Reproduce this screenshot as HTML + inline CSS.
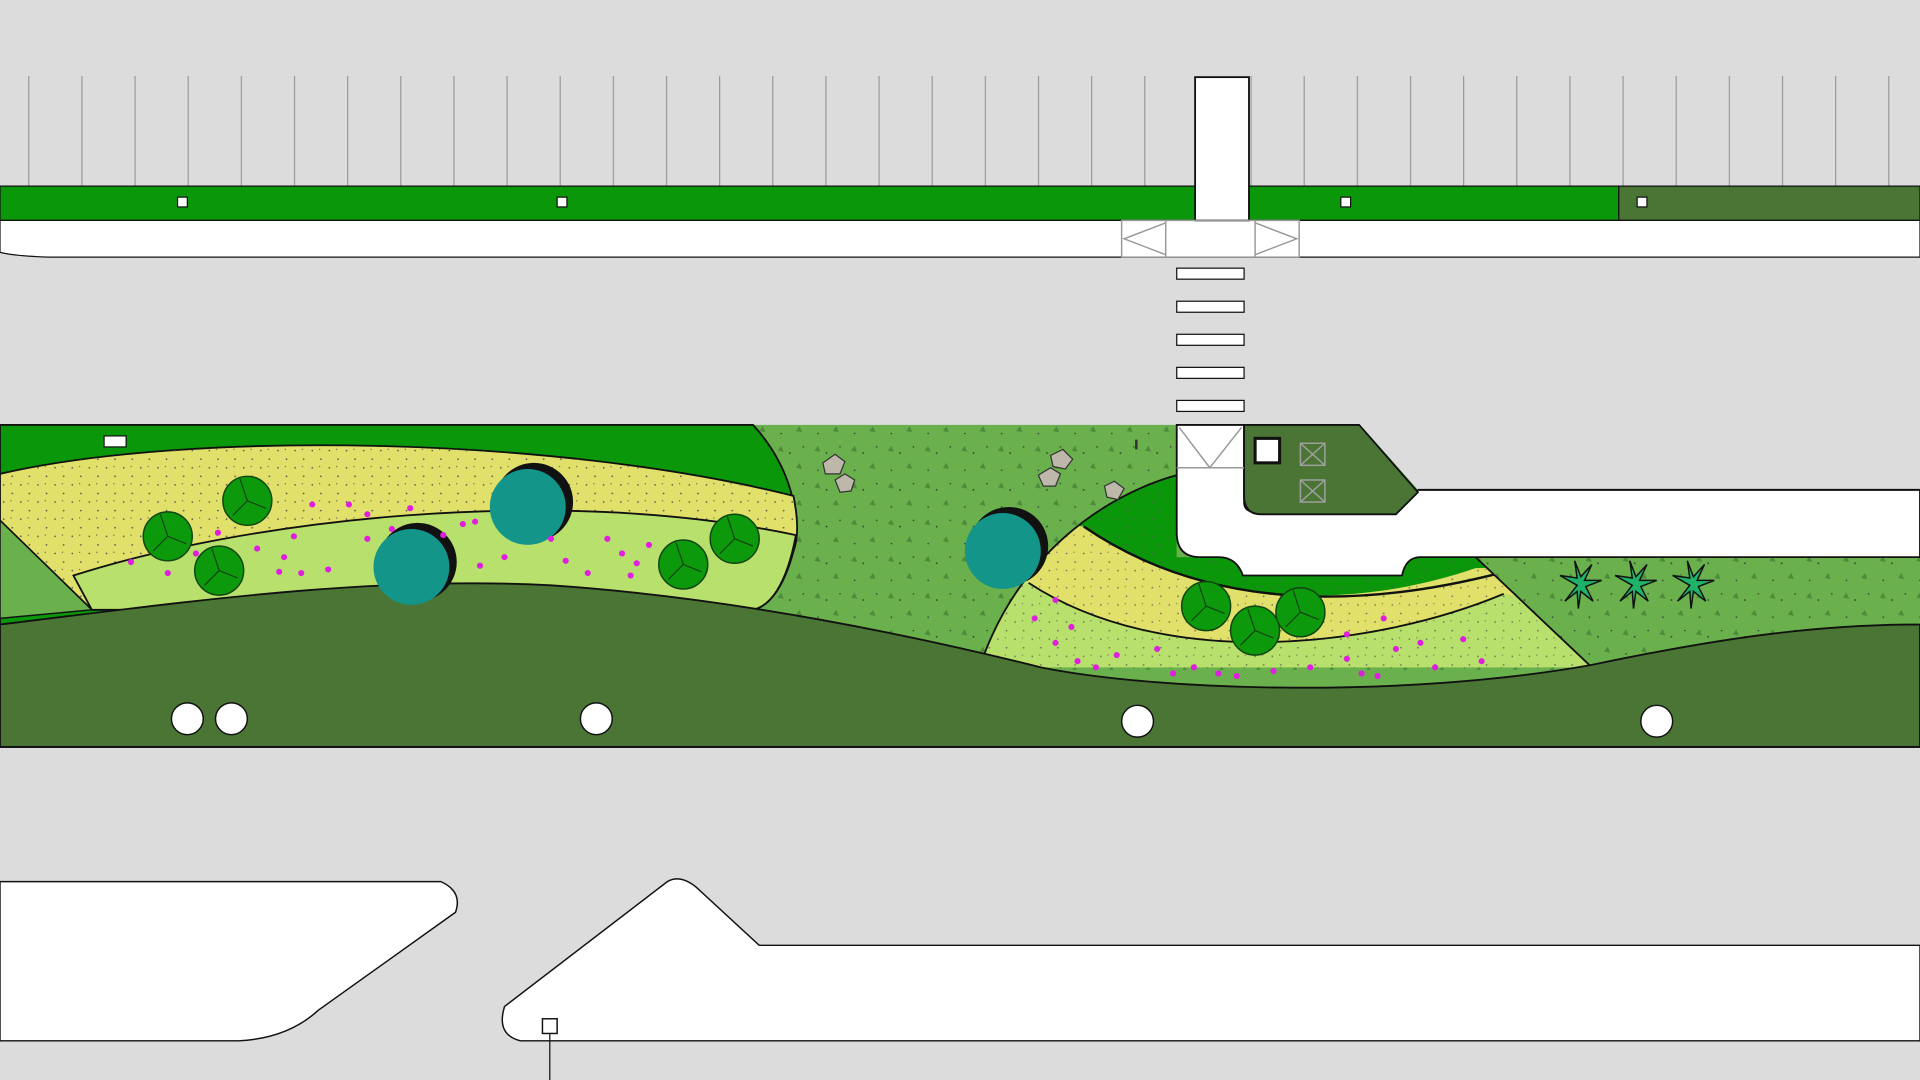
<!DOCTYPE html>
<html><head><meta charset="utf-8"><style>html,body{margin:0;padding:0;background:#dcdcdc}svg{display:block}</style></head>
<body>
<svg width="1920" height="1080" viewBox="0 0 1568 882" preserveAspectRatio="none" xmlns="http://www.w3.org/2000/svg">
<defs>
<pattern id="vl" x="23" y="0" width="43.4" height="882" patternUnits="userSpaceOnUse"><line x1="0.5" y1="62" x2="0.5" y2="152" stroke="#9a9a9a" stroke-width="1"/></pattern>
<pattern id="dots" width="14" height="14" patternUnits="userSpaceOnUse"><circle cx="3" cy="4" r="0.7" fill="#555"/><circle cx="10" cy="11" r="0.7" fill="#555"/><circle cx="9" cy="3" r="0.5" fill="#555"/></pattern>
<pattern id="tri" width="30" height="30" patternUnits="userSpaceOnUse"><path d="M5,8 l3,-4 l2,5z M20,22 l3,-4 l2,5z" fill="#4d8a3a"/><circle cx="15" cy="10" r="0.7" fill="#333"/><circle cx="26" cy="5" r="0.6" fill="#333"/><circle cx="8" cy="24" r="0.6" fill="#333"/></pattern>
<clipPath id="rc"><path d="M961,388 C900,405 830,455 800,545 L1300,545 L1205,455 H961 Z"/></clipPath>
</defs>
<rect width="1568" height="882" fill="#dcdcdc"/>
<rect x="0" y="60" width="1568" height="95" fill="url(#vl)"/>
<rect x="0" y="152" width="1322" height="28" fill="#0a980a" stroke="#111" stroke-width="1"/>
<rect x="1322" y="152" width="246" height="28" fill="#4a7535" stroke="#111" stroke-width="1"/>
<g fill="#fff" stroke="#111" stroke-width="1"><rect x="145" y="161" width="8" height="8"/><rect x="455" y="161" width="8" height="8"/><rect x="1095" y="161" width="8" height="8"/><rect x="1337" y="161" width="8" height="8"/></g>
<path d="M0,180 H1568 V210 H40 Q10,209 0,206 Z" fill="#fff" stroke="#111" stroke-width="1"/>
<rect x="976" y="63" width="44" height="117" fill="#fff" stroke="#111" stroke-width="1.5"/>
<g fill="none" stroke="#999" stroke-width="1.2"><rect x="916" y="180" width="145" height="30"/><path d="M952,182 L918,195 L952,208 M1025,182 L1059,195 L1025,208"/><line x1="952" y1="180" x2="952" y2="210"/><line x1="1025" y1="180" x2="1025" y2="210"/></g>
<g fill="#fff" stroke="#111" stroke-width="1"><rect x="961" y="219" width="55" height="9"/><rect x="961" y="246" width="55" height="9"/><rect x="961" y="273" width="55" height="9"/><rect x="961" y="300" width="55" height="9"/><rect x="961" y="327" width="55" height="9"/></g>
<rect x="0" y="347" width="1568" height="263" fill="#6ab04c"/>
<rect x="615" y="347" width="953" height="200" fill="url(#tri)"/>
<rect x="0" y="420" width="80" height="100" fill="url(#tri)"/>
<!-- left pod -->
<path d="M0,347 H615 C645,380 655,420 648,450 C640,480 628,495 615,498 L0,510 Z" fill="#0a980a" stroke="#111" stroke-width="1.5"/>
<path d="M0,387 C150,352 450,355 648,405 C652,425 652,440 648,450 C640,480 628,495 615,498 L75,498 L0,425 Z" fill="#e0e06a" stroke="#111" stroke-width="1.5"/>
<path d="M0,387 C150,352 450,355 648,405 C652,425 652,440 648,450 C640,480 628,495 615,498 L75,498 L0,425 Z" fill="url(#dots)"/>
<path d="M60,470 C200,425 450,395 650,437 C642,480 628,495 615,498 L75,498 Z" fill="#b8e06c" stroke="#111" stroke-width="1.5"/>
<path d="M0,425 L75,498 L0,505 Z" fill="#6ab04c" stroke="#111" stroke-width="1.2"/>
<!-- right center bands -->
<g clip-path="url(#rc)">
<rect x="780" y="380" width="540" height="180" fill="#e0e06a"/>
<path d="M780,380 H1320 V462 L1205,464 C1100,500 980,495 885,430 L780,420 Z" fill="#0a980a"/>
<path d="M780,470 L840,476 C950,548 1120,530 1228,485 L1320,500 V560 H780 Z" fill="#b8e06c"/>
<rect x="780" y="380" width="540" height="180" fill="url(#dots)" opacity="0.8"/>
<path d="M885,430 C980,495 1100,500 1225,468" fill="none" stroke="#111" stroke-width="2"/>
<path d="M840,476 C950,548 1120,530 1228,485" fill="none" stroke="#111" stroke-width="1.5"/>
</g>
<path d="M961,388 C900,405 830,455 800,545 M1205,455 L1300,545" fill="none" stroke="#111" stroke-width="1.5"/>
<!-- dark green wave -->
<path d="M0,510 C150,492 300,470 450,478 C600,488 750,520 850,545 C950,565 1150,570 1300,543 C1400,522 1480,510 1568,510 V610 H0 Z" fill="#4a7535" stroke="#111" stroke-width="1.5"/>
<line x1="0" y1="610" x2="1568" y2="610" stroke="#111" stroke-width="1.5"/>
<!-- road in median -->
<path d="M961,347 H1016 V410 Q1016,418 1025,418 H1140 L1158,400 H1568 V455 H1160 Q1148,455 1145,470 H1015 Q1010,455 995,455 H980 Q961,455 961,435 Z" fill="#fff" stroke="#111" stroke-width="1.5"/>
<path d="M1016,347 H1110 L1158,402 L1140,420 H1030 Q1016,420 1016,405 Z" fill="#4a7535" stroke="#111" stroke-width="1.5"/>
<path d="M1110,346 H1568 V400 H1158 Z" fill="#dcdcdc"/>
<line x1="1158" y1="400" x2="1568" y2="400" stroke="#111" stroke-width="1.5"/>
<path d="M963,349 L988,382 L1014,349 M961,382 H1016" fill="none" stroke="#999" stroke-width="1.2"/>
<rect x="1025" y="358" width="20" height="20" fill="#fff" stroke="#111" stroke-width="2.5"/>
<g fill="none" stroke="#a0a0a0" stroke-width="1.2"><rect x="1062" y="362" width="20" height="18"/><path d="M1062,362 L1082,380 M1082,362 L1062,380"/><rect x="1062" y="392" width="20" height="18"/><path d="M1062,392 L1082,410 M1082,392 L1062,410"/></g>
<rect x="85" y="356" width="18" height="9" fill="#fff" stroke="#111"/>
<rect x="927" y="359" width="2" height="8" fill="#333"/>
<g fill="#bdb8aa" stroke="#333" stroke-width="1"><path d="M672,378 l10,-7 l8,6 l-4,10 l-12,0z"/><path d="M682,392 l8,-5 l8,5 l-3,9 l-9,1z"/><path d="M858,372 l10,-5 l8,8 l-6,8 l-10,-2z"/><path d="M848,388 l10,-6 l8,5 l-4,10 l-10,0z"/><path d="M902,397 l8,-4 l8,6 l-5,9 l-9,-2z"/></g>
<g><circle cx="436" cy="410" r="32" fill="#111"/><circle cx="431" cy="414" r="31" fill="#13958a"/>
<circle cx="341" cy="459" r="32" fill="#111"/><circle cx="336" cy="463" r="31" fill="#13958a"/>
<circle cx="824" cy="446" r="32" fill="#111"/><circle cx="819" cy="450" r="31" fill="#13958a"/></g>
<g fill="#0c9a0c" stroke="#114411" stroke-width="1.2">
<circle cx="202" cy="409" r="20"/><circle cx="137" cy="438" r="20"/><circle cx="179" cy="466" r="20"/><circle cx="558" cy="461" r="20"/><circle cx="600" cy="440" r="20"/><circle cx="985" cy="495" r="20"/><circle cx="1025" cy="515" r="20"/><circle cx="1062" cy="500" r="20"/></g>
<g stroke="#114411" stroke-width="1" fill="none">
<path d="M202,409 l-6,-18 M202,409 l15,6 M202,409 l-12,12"/><path d="M137,438 l-6,-18 M137,438 l15,6 M137,438 l-12,12"/><path d="M179,466 l-6,-18 M179,466 l15,6 M179,466 l-12,12"/><path d="M558,461 l-6,-18 M558,461 l15,6 M558,461 l-12,12"/><path d="M600,440 l-6,-18 M600,440 l15,6 M600,440 l-12,12"/><path d="M985,495 l-6,-18 M985,495 l15,6 M985,495 l-12,12"/><path d="M1025,515 l-6,-18 M1025,515 l15,6 M1025,515 l-12,12"/><path d="M1062,500 l-6,-18 M1062,500 l15,6 M1062,500 l-12,12"/></g>
<g fill="#e01ee0">
<circle cx="107" cy="459" r="2.5"/><circle cx="137" cy="468" r="2.5"/><circle cx="160" cy="452" r="2.5"/><circle cx="178" cy="435" r="2.5"/><circle cx="210" cy="448" r="2.5"/><circle cx="232" cy="455" r="2.5"/><circle cx="240" cy="438" r="2.5"/><circle cx="255" cy="412" r="2.5"/><circle cx="268" cy="465" r="2.5"/><circle cx="285" cy="412" r="2.5"/><circle cx="300" cy="420" r="2.5"/><circle cx="300" cy="440" r="2.5"/><circle cx="320" cy="432" r="2.5"/><circle cx="335" cy="415" r="2.5"/><circle cx="362" cy="437" r="2.5"/><circle cx="378" cy="428" r="2.5"/><circle cx="388" cy="426" r="2.5"/><circle cx="392" cy="462" r="2.5"/><circle cx="412" cy="455" r="2.5"/><circle cx="450" cy="440" r="2.5"/><circle cx="462" cy="458" r="2.5"/><circle cx="480" cy="468" r="2.5"/><circle cx="496" cy="440" r="2.5"/><circle cx="508" cy="452" r="2.5"/><circle cx="520" cy="460" r="2.5"/><circle cx="515" cy="470" r="2.5"/><circle cx="530" cy="445" r="2.5"/><circle cx="228" cy="467" r="2.5"/><circle cx="246" cy="468" r="2.5"/>
<circle cx="845" cy="505" r="2.5"/><circle cx="862" cy="490" r="2.5"/><circle cx="875" cy="512" r="2.5"/><circle cx="862" cy="525" r="2.5"/><circle cx="880" cy="540" r="2.5"/><circle cx="895" cy="545" r="2.5"/><circle cx="912" cy="535" r="2.5"/><circle cx="945" cy="530" r="2.5"/><circle cx="958" cy="550" r="2.5"/><circle cx="975" cy="545" r="2.5"/><circle cx="995" cy="550" r="2.5"/><circle cx="1010" cy="552" r="2.5"/><circle cx="1040" cy="548" r="2.5"/><circle cx="1070" cy="545" r="2.5"/><circle cx="1100" cy="538" r="2.5"/><circle cx="1112" cy="550" r="2.5"/><circle cx="1125" cy="552" r="2.5"/><circle cx="1140" cy="530" r="2.5"/><circle cx="1160" cy="525" r="2.5"/><circle cx="1172" cy="545" r="2.5"/><circle cx="1195" cy="522" r="2.5"/><circle cx="1210" cy="540" r="2.5"/><circle cx="1130" cy="505" r="2.5"/><circle cx="1100" cy="518" r="2.5"/></g>
<g stroke="#111" stroke-width="1.2" fill="#1fb36a">
<path d="M1288,478 l-14,-8 l14,2 l-2,-14 l5,13 l9,-10 l-6,13 l14,0 l-13,5 l6,12 l-10,-8 l-2,14 l-1,-14 l-10,8z"/>
<path d="M1333,478 l-14,-8 l14,2 l-2,-14 l5,13 l9,-10 l-6,13 l14,0 l-13,5 l6,12 l-10,-8 l-2,14 l-1,-14 l-10,8z"/>
<path d="M1380,478 l-14,-8 l14,2 l-2,-14 l5,13 l9,-10 l-6,13 l14,0 l-13,5 l6,12 l-10,-8 l-2,14 l-1,-14 l-10,8z"/></g>
<g fill="#fff" stroke="#111" stroke-width="1.2"><circle cx="153" cy="587" r="13"/><circle cx="189" cy="587" r="13"/><circle cx="487" cy="587" r="13"/><circle cx="929" cy="589" r="13"/><circle cx="1353" cy="589" r="13"/></g>
<path d="M0,720 H360 Q378,728 372,745 L260,825 Q235,848 195,850 H0 Z" fill="#fff" stroke="#111" stroke-width="1.2"/>
<path d="M545,720 Q555,714 568,724 L620,772 H1568 V850 H425 Q405,845 412,822 Z" fill="#fff" stroke="#111" stroke-width="1.2"/>
<rect x="443" y="832" width="12" height="12" fill="#fff" stroke="#111" stroke-width="1.2"/>
<line x1="449" y1="844" x2="449" y2="882" stroke="#111" stroke-width="1"/>
</svg>
</body></html>
